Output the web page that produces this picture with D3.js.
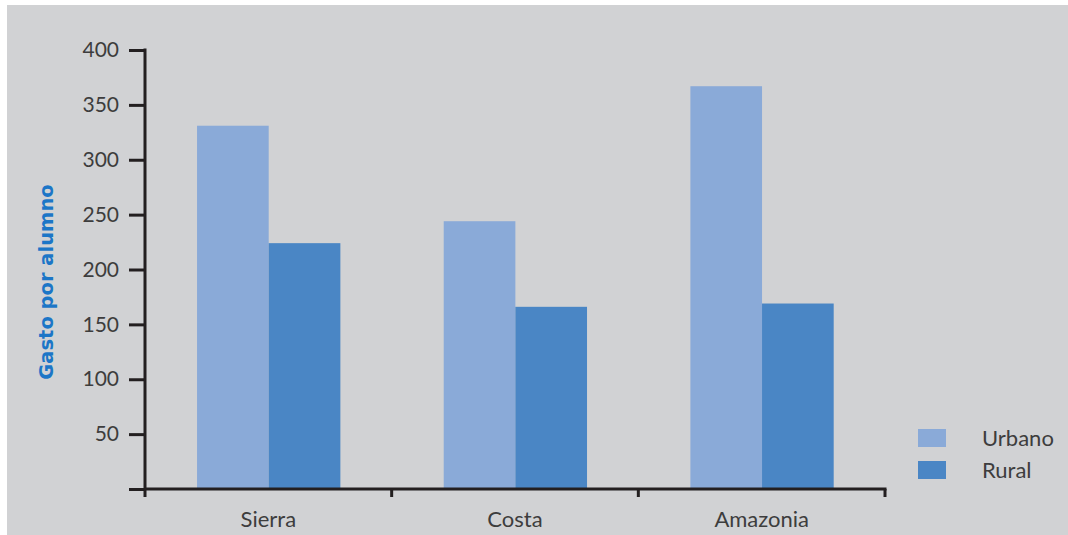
<!DOCTYPE html>
<html>
<head>
<meta charset="utf-8">
<script src="https://cdn.jsdelivr.net/npm/d3@7"></script>
<style>
  html, body { margin: 0; padding: 0; background: #ffffff; }
  svg { display: block; }
</style>
</head>
<body>
<svg id="chart" width="1068" height="535"></svg>
<script>
// ---- data ----
const categories = ["Sierra", "Costa", "Amazonia"];
const seriesNames = ["Urbano", "Rural"];
const urbanoValues = [331, 244, 367];
const ruralValues = [224, 166, 169];
const yTickValues = [50, 100, 150, 200, 250, 300, 350, 400];
const yTitle = "Gasto por alumno";

const seriesValues = { "Urbano": urbanoValues, "Rural": ruralValues };
const colors = { "Urbano": "#8aaad8", "Rural": "#4a86c5" };

(function () {
const svg = d3.select("#chart");
const W = 1068, H = 535;

// grey panel
svg.append("rect").attr("x", 7).attr("y", 5).attr("width", W - 7).attr("height", H - 5).attr("fill", "#d1d2d4");

const mLeft = 145, mRight = 885, mTop = 50, mBottom = 489;

const y = d3.scaleLinear().domain([0, 400]).range([mBottom, mTop]);
const x0 = d3.scaleBand().domain(categories).range([mLeft, mRight]).padding(0);
const bw = x0.bandwidth();
const x1 = d3.scaleBand().domain(seriesNames).range([bw * 0.211, bw * 0.792]).padding(0);

const textColor = "#3d3d3d";
const axisColor = "#231f20";
const font = "Lato, 'Open Sans', sans-serif";

// bars
const groups = svg.append("g").selectAll("g").data(categories).join("g")
  .attr("transform", d => `translate(${x0(d)},0)`);
groups.selectAll("rect")
  .data((c, i) => seriesNames.map(s => ({ s, v: seriesValues[s][i] })))
  .join("rect")
  .attr("x", d => x1(d.s))
  .attr("width", x1.bandwidth())
  .attr("y", d => y(d.v))
  .attr("height", d => y(0) - y(d.v))
  .attr("fill", d => colors[d.s]);

// y axis
const yAxis = svg.append("g").attr("transform", `translate(${mLeft},0)`)
  .call(d3.axisLeft(y).tickValues([0].concat(yTickValues)).tickSize(16).tickPadding(10)
    .tickFormat(d => d === 0 ? "" : d));
yAxis.select(".domain").remove();
yAxis.selectAll(".tick line").attr("stroke", axisColor).attr("stroke-width", 3);
yAxis.selectAll(".tick text").attr("fill", textColor).style("font-family", font).style("font-size", "21px");
svg.append("line").attr("x1", mLeft).attr("x2", mLeft).attr("y1", y(400) - 1.5).attr("y2", mBottom + 8)
  .attr("stroke", axisColor).attr("stroke-width", 3);

// x axis
svg.append("line").attr("x1", mLeft).attr("x2", mRight + 1.5).attr("y1", mBottom).attr("y2", mBottom)
  .attr("stroke", axisColor).attr("stroke-width", 3);
const bounds = categories.slice(1).map(c => x0(c)).concat([mRight]);
svg.append("g").selectAll("line").data(bounds).join("line")
  .attr("x1", d => d).attr("x2", d => d).attr("y1", mBottom).attr("y2", mBottom + 8)
  .attr("stroke", axisColor).attr("stroke-width", 3);
const xAxis = svg.append("g").attr("transform", `translate(0,${mBottom})`)
  .call(d3.axisBottom(x0).tickSize(0).tickPadding(22));
xAxis.select(".domain").remove();
xAxis.selectAll(".tick text").attr("fill", textColor).style("font-family", font).style("font-size", "22px");

// y title
svg.append("text")
  .attr("transform", `translate(53,282) rotate(-90)`)
  .attr("text-anchor", "middle")
  .attr("fill", "#1c76c7")
  .style("font-family", "'DejaVu Sans', sans-serif").style("font-weight", "bold").style("font-size", "19.5px")
  .text(yTitle);

// legend
const legend = svg.append("g").selectAll("g").data(seriesNames).join("g")
  .attr("transform", (d, i) => `translate(918,${429 + i * 32})`);
legend.append("rect").attr("width", 28).attr("height", 18).attr("fill", d => colors[d]);
legend.append("text").attr("x", 64).attr("y", 9).attr("dy", "0.35em")
  .attr("fill", textColor).style("font-family", font).style("font-size", "22px")
  .text(d => d);
})();
</script>
</body>
</html>
